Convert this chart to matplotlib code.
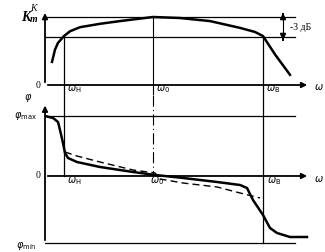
import numpy as np
import matplotlib.pyplot as plt

# gain curve K(w), Km = 1
k_w = [0.7, 1.0, 1.3, 1.9, 2.5, 3.5, 5.5, 7.5, 10.8, 13.5, 16.5, 19.5, 21.0, 21.8, 23.0, 24.5]
k_val = [0.34, 0.52, 0.62, 0.72, 0.79, 0.85, 0.90, 0.94, 1.0, 0.985, 0.94, 0.84, 0.78, 0.72, 0.45, 0.15]

# phase curve phi(w), phi_max = 1
phi_w = [0, 0.8, 1.3, 1.5, 1.8, 2.0, 2.3, 3.2, 5.5, 8.8, 11.0, 13.8, 17.2, 19.5, 20.2, 20.8,
         21.8, 22.5, 23.2, 24.5, 26.2]
phi_val = [1.0, 0.967, 0.9, 0.767, 0.55, 0.383, 0.3, 0.233, 0.15, 0.067, 0.017, -0.033, -0.1,
           -0.15, -0.2, -0.4, -0.65, -0.867, -0.95, -1.017, -1.017]

# dashed (linear approximation) phase
phi2_w = [2.0, 3.2, 5.5, 8.8, 11.0, 11.5, 13.8, 17.2, 19.5, 21.5]
phi2_val = [0.4, 0.333, 0.233, 0.1, 0.05, -0.05, -0.117, -0.183, -0.283, -0.367]

w_low, w_0, w_high = 1.9, 10.8, 21.8
k_3db = 0.707
phi_max, phi_min = 1.0, -1.117

plt.rcParams['font.family'] = ['Liberation Serif', 'DejaVu Serif']

fig = plt.figure(figsize=(3.25, 2.52), dpi=100)
ax1 = fig.add_axes([45 / 325, 1 - 95 / 252, 280 / 325, 95 / 252])
ax2 = fig.add_axes([45 / 325, 0, 280 / 325, 157 / 252])

for ax in (ax1, ax2):
    ax.set_xlim(0, 28)
    ax.axis('off')
ax1.set_ylim(-0.147, 1.25)
ax2.set_ylim(-1.267, 1.35)

arr = dict(arrowstyle='-|>', lw=1.3, color='black', mutation_scale=8)

# ---- top: K(w)
ax1.annotate('', xy=(0, 1.1), xytext=(0, 0), arrowprops=arr)
ax1.annotate('', xy=(26.5, 0), xytext=(0, 0), arrowprops=arr)
ax1.plot([0, 25.0], [1, 1], color='black', lw=0.9)
ax1.plot([0, 25.0], [k_3db, k_3db], color='black', lw=0.9)
ax1.plot([w_low, w_low], [k_3db, -0.147], color='black', lw=0.9)
ax1.plot([w_0, w_0], [1, -0.147], color='black', lw=0.8)
ax1.plot([w_high, w_high], [k_3db, -0.147], color='black', lw=0.9)
ax1.plot(k_w, k_val, color='black', lw=1.8)
ax1.annotate('', xy=(23.8, 1.1), xytext=(23.8, 1.0), arrowprops=arr)
ax1.annotate('', xy=(23.8, 0.62), xytext=(23.8, k_3db), arrowprops=arr)
ax1.plot([23.8, 23.8], [1.0, k_3db], color='black', lw=0.8)
ax1.text(24.5, 0.85, '-3 дБ', fontsize=7, va='center')

ax1.text(-1.2, 1.13, 'K', fontsize=7, style='italic', ha='center', va='center')
ax1.text(-1.5, 1.0, 'K', fontsize=10, style='italic', fontweight='bold', ha='right', va='center')
ax1.text(-1.5, 0.97, 'm', fontsize=7, style='italic', fontweight='bold', ha='left', va='center')
ax1.text(-0.7, 0, '0', fontsize=7, ha='center', va='center')
ax1.text(w_low + 0.3, -0.06, r'$\omega_{\rm H}$', fontsize=7, va='center')
ax1.text(w_0 + 0.3, -0.06, r'$\omega_0$', fontsize=7, va='center')
ax1.text(w_high + 0.3, -0.06, r'$\omega_{\rm B}$', fontsize=7, va='center')
ax1.text(26.9, -0.03, r'$\omega$', fontsize=7, va='center')

# ---- bottom: phi(w)
ax2.annotate('', xy=(0, 1.22), xytext=(0, phi_min), arrowprops=arr)
ax2.annotate('', xy=(26.5, 0), xytext=(0, 0), arrowprops=arr)
ax2.plot([0, 25.0], [phi_max, phi_max], color='black', lw=0.9)
ax2.plot([0, 25.0], [phi_min, phi_min], color='black', lw=0.9)
ax2.plot([w_low, w_low], [1.35, 0], color='black', lw=0.9)
ax2.plot([w_0, w_0], [1.35, 0], color='black', lw=0.8, ls=(0, (10, 3, 1, 3)))
ax2.plot([w_high, w_high], [1.35, phi_min], color='black', lw=0.9)
ax2.plot(phi_w, phi_val, color='black', lw=1.8)
ax2.plot(phi2_w, phi2_val, color='black', lw=1.0, ls=(0, (5, 3)))

ax2.text(-1.7, 1.3, r'$\varphi$', fontsize=7, ha='center', va='center')
ax2.text(-0.8, phi_max, r'$\varphi_{\rm max}$', fontsize=7, ha='right', va='center')
ax2.text(-0.7, 0, '0', fontsize=7, ha='center', va='center')
ax2.text(-0.8, phi_min - 0.05, r'$\varphi_{\rm min}$', fontsize=7, ha='right', va='center')
ax2.text(w_low + 0.3, -0.08, r'$\omega_{\rm H}$', fontsize=7, va='center')
ax2.text(w_0 - 0.3, -0.08, r'$\omega_0$', fontsize=7, va='center')
ax2.text(w_high + 0.4, -0.08, r'$\omega_{\rm B}$', fontsize=7, va='center')
ax2.text(26.9, -0.05, r'$\omega$', fontsize=7, va='center')

fig.savefig('out.png', dpi=100)
